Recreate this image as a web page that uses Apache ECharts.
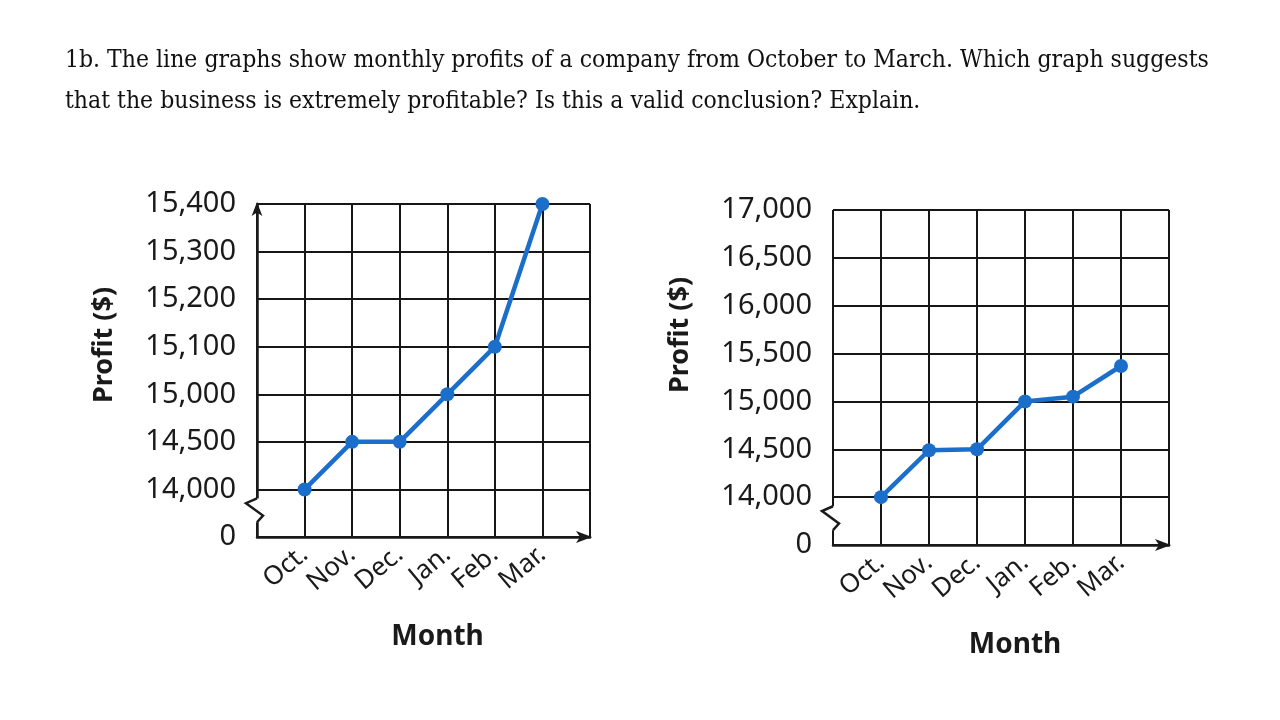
<!DOCTYPE html>
<html lang="en">
<head>
<meta charset="utf-8">
<title>Monthly profits</title>
<script src="https://cdn.jsdelivr.net/npm/echarts@6/dist/echarts.min.js"></script>
<style>
  html, body { margin: 0; padding: 0; background: #fff; }
  #main { width: 1280px; height: 720px; }
</style>
</head>
<body>
<div id="main"></div>
<script>
// data
var months = ['', 'Oct.', 'Nov.', 'Dec.', 'Jan.', 'Feb.', 'Mar.', ''];
var profitA = [14000, 14500, 14500, 15000, 15100, 15400];
var profitB = [14000, 14490, 14500, 15000, 15050, 15370];
// left graph uses an uneven scale: each tick gets the same row height
var ticksA = [0, 14000, 14500, 15000, 15100, 15200, 15300, 15400];

var BLUE = '#1b6fcb';
var INK = '#1a1a1a';

function fmt(v) {
  return v.toLocaleString('en-US');
}

var tickLabelsA = ticksA.map(fmt);
var realMonths = months.filter(function (m) { return m !== ''; });

var seriesA = realMonths.map(function (m, i) { return [m, fmt(profitA[i])]; });
var seriesB = realMonths.map(function (m, i) { return [m, profitB[i]]; });

var chart = echarts.init(document.getElementById('main'));

function xAxisCfg(gridIndex) {
  return {
    gridIndex: gridIndex,
    type: 'category',
    data: months,
    boundaryGap: false,
    axisLine: {
      lineStyle: { color: INK, width: 2.5 },
      symbol: ['none', 'arrow'],
      symbolSize: [9, 16],
      symbolOffset: [0, 2]
    },
    axisTick: { show: false },
    splitLine: { show: true, lineStyle: { color: '#161616', width: 2 } },
    axisLabel: {
      interval: 0,
      rotate: 40,
      margin: 14,
      color: INK,
      fontFamily: 'Noto Sans',
      fontSize: 26
    },
    name: 'Month',
    nameLocation: 'middle',
    nameGap: 86,
    nameTextStyle: {
      color: INK,
      fontFamily: 'Noto Sans',
      fontWeight: 'bold',
      fontSize: 28,
      padding: [0, 0, 0, 28]
    }
  };
}

var yAxisLine = {
  lineStyle: { color: INK, width: 2.5 },
  symbol: ['none', 'arrow'],
  symbolSize: [8, 14],
  symbolOffset: [0, 2]
};
var yLabel = {
  color: INK,
  fontFamily: 'Noto Sans',
  fontSize: 29,
  margin: 21
};
var ySplit = { show: true, lineStyle: { color: '#161616', width: 2 } };

function lineSeries(xi, data) {
  return {
    type: 'line',
    xAxisIndex: xi,
    yAxisIndex: xi,
    data: data,
    symbol: 'circle',
    symbolSize: 14,
    lineStyle: { color: BLUE, width: 4.5 },
    itemStyle: { color: BLUE },
    animation: false,
    z: 5
  };
}

var option = {
  animation: false,
  backgroundColor: '#fff',
  title: {
    text: '1b. The line graphs show monthly profits of a company from October to March. Which graph suggests\nthat the business is extremely profitable? Is this a valid conclusion? Explain.',
    left: 60,
    top: 35,
    textStyle: {
      color: '#111',
      fontFamily: 'DejaVu Serif Condensed',
      fontWeight: 'normal',
      fontSize: 24.5,
      lineHeight: 41
    }
  },
  grid: [
    { left: 257, right: 690, top: 204, bottom: 183 },
    { left: 833, right: 111, top: 210, bottom: 175 }
  ],
  xAxis: [xAxisCfg(0), xAxisCfg(1)],
  yAxis: [
    {
      gridIndex: 0,
      type: 'category',
      data: tickLabelsA,
      boundaryGap: false,
      axisLine: yAxisLine,
      axisTick: { show: false },
      axisLabel: yLabel,
      splitLine: ySplit
    },
    {
      gridIndex: 1,
      type: 'value',
      min: 13500,
      max: 17000,
      interval: 500,
      axisLine: yAxisLine,
      axisTick: { show: false },
      axisLabel: Object.assign({}, yLabel, {
        formatter: function (v) { return v === 13500 ? '0' : fmt(v); }
      }),
      splitLine: ySplit
    }
  ],
  series: [lineSeries(0, seriesA), lineSeries(1, seriesB)]
};

chart.setOption(option);

// axis titles and the zigzag break on each y axis
function breakMark(i, lowVal, topVal) {
  var x0 = chart.convertToPixel({ xAxisIndex: i }, 0);
  var yLow = chart.convertToPixel({ yAxisIndex: i }, lowVal);
  var yTop = chart.convertToPixel({ yAxisIndex: i }, topVal);
  var g = yLow - yTop;
  var a = yTop + g * 0.19;
  var b = yTop + g * 0.69;
  return [
    {
      type: 'rect',
      z: 100,
      shape: { x: x0 - 3, y: a, width: 6, height: b - a },
      style: { fill: '#fff' }
    },
    {
      type: 'polyline',
      z: 101,
      shape: {
        points: [
          [x0, a],
          [x0 - 11, a + (b - a) * 0.2],
          [x0 + 6, a + (b - a) * 0.72],
          [x0, b]
        ]
      },
      style: { stroke: INK, lineWidth: 2.5, fill: null }
    }
  ];
}

function profitTitle(x, y) {
  return {
    type: 'text',
    x: x,
    y: y,
    rotation: Math.PI / 2,
    z: 100,
    style: {
      text: 'Profit ($)',
      fill: INK,
      font: 'bold 27px "Noto Sans"',
      align: 'center',
      verticalAlign: 'middle'
    }
  };
}

var marks = []
  .concat(breakMark(0, '0', '14,000'))
  .concat(breakMark(1, 13500, 14000))
  .concat([profitTitle(104, 345), profitTitle(680, 335)]);

chart.setOption({ graphic: marks });
</script>
</body>
</html>
